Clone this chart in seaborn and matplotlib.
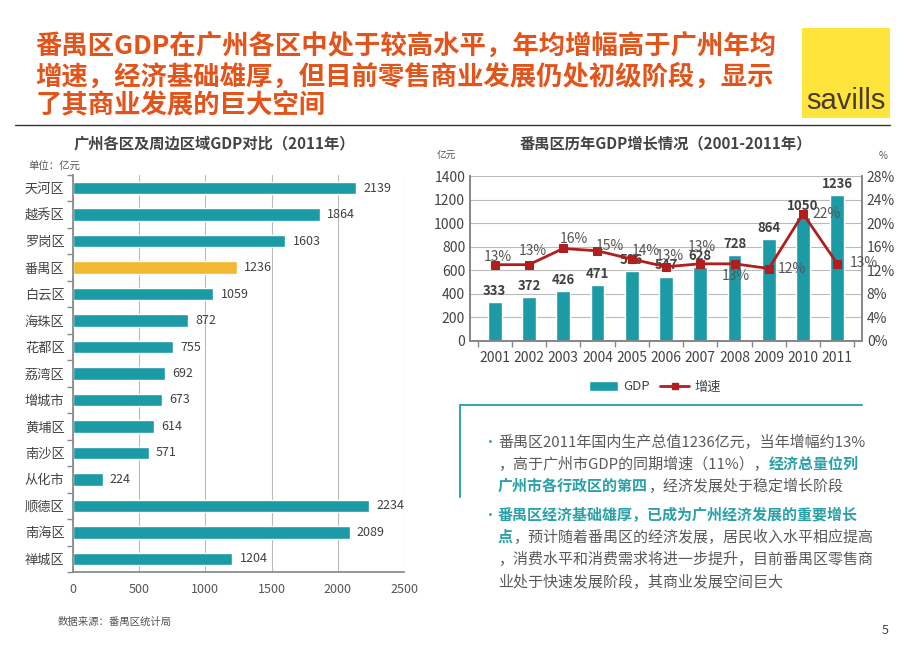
import numpy as np
import pandas as pd
import matplotlib.pyplot as plt
import seaborn as sns
from matplotlib.patches import Rectangle
from matplotlib.lines import Line2D

# data
districts = ['天河区', '越秀区', '罗岗区', '番禺区', '白云区', '海珠区', '花都区', '荔湾区',
             '增城市', '黄埔区', '南沙区', '从化市', '顺德区', '南海区', '禅城区']
district_gdp = [2139, 1864, 1603, 1236, 1059, 872, 755, 692, 673, 614, 571, 224, 2234, 2089, 1204]
years = ['2001', '2002', '2003', '2004', '2005', '2006', '2007', '2008', '2009', '2010', '2011']
py_gdp = [333, 372, 426, 471, 596, 547, 628, 728, 864, 1050, 1236]
py_growth = [12.95, 12.95, 15.7, 15.3, 13.9, 12.6, 13.1, 13.1, 12.3, 21.6, 13.1]
growth_labels = ['13%', '13%', '16%', '15%', '14%', '13%', '13%', '13%', '12%', '22%', '13%']

teal = '#1C9AA6'
gold = '#F2B830'
red = '#B01E1E'
grey_txt = '#404040'

sns.set_theme(style='white')
plt.rcParams['font.family'] = ['Noto Sans CJK SC', 'DejaVu Sans']
plt.rcParams['axes.unicode_minus'] = False

fig = plt.figure(figsize=(9.2, 6.51), dpi=100)

# header
title_lines = ['番禺区GDP在广州各区中处于较高水平，年均增幅高于广州年均',
               '增速，经济基础雄厚，但目前零售商业发展仍处初级阶段，显示',
               '了其商业发展的巨大空间']
for yy, s in zip([47, 77, 105], title_lines):
    fig.text(35/920, 1-yy/651, s, color='#E2541A', fontsize=19, fontweight='bold', va='center')
fig.patches.append(Rectangle((802/920, 1-118/651), 88/920, 90/651, transform=fig.transFigure,
                             facecolor='#FFE53B', edgecolor='none'))
fig.text(846/920, 1-101/651, 'savills', color='#4A3A30', fontsize=21, ha='center', va='center',
         family=['Liberation Sans Narrow', 'Liberation Sans', 'DejaVu Sans'])
fig.add_artist(Line2D([15/920, 890/920], [1-125/651, 1-125/651], color='#333333', lw=1))

# left chart
ax = fig.add_axes([73/920, 1-572/651, 331/920, 397/651])
df1 = pd.DataFrame({'区域': districts, 'GDP': district_gdp})
pal = {d: (gold if d == '番禺区' else teal) for d in districts}
sns.barplot(data=df1, x='GDP', y='区域', hue='区域', palette=pal, legend=False,
            orient='h', width=0.47, ax=ax, saturation=1)
ax.set_xlim(0, 2500)
ax.set_xticks([0, 500, 1000, 1500, 2000, 2500])
ax.grid(axis='x', color='#BBBBBB', lw=0.8)
ax.set_axisbelow(True)
ax.set_xlabel('')
ax.set_ylabel('')
for s in ['top', 'right']:
    ax.spines[s].set_visible(False)
ax.spines['left'].set_color('#888888')
ax.spines['bottom'].set_color('#888888')
ax.tick_params(axis='x', labelsize=9, colors='#555555', length=0, pad=8)
ax.tick_params(axis='y', labelsize=9.5, colors='#444444', length=0, pad=6)
ax.set_yticks(np.arange(-0.5, len(districts)), minor=True)
ax.tick_params(axis='y', which='minor', length=4, color='#888888', left=True)
for i, v in enumerate(district_gdp):
    ax.text(v + 55, i, str(v), va='center', ha='left', fontsize=9, color=grey_txt)
ax.set_ylim(len(districts) - 0.5, -0.5)
fig.text(214/920, 1-143/651, '广州各区及周边区域GDP对比（2011年）', ha='center', va='center',
         fontsize=11, fontweight='bold', color='#444444')
fig.text(28/920, 1-167/651, '单位：亿元', fontsize=7.5, color='#555555', va='center')
fig.text(58/920, 1-622/651, '数据来源：番禺区统计局', fontsize=7.5, color='#555555', va='center')

# right chart
ax1 = fig.add_axes([470/920, 1-341/651, 392/920, 165/651])
df2 = pd.DataFrame({'年份': years, 'GDP': py_gdp})
sns.barplot(data=df2, x='年份', y='GDP', color=teal, width=0.4, ax=ax1, saturation=1)
ax1.set_ylim(0, 1400)
ax1.set_yticks(range(0, 1401, 200))
ax1.grid(axis='y', color='#BBBBBB', lw=0.8)
ax1.set_axisbelow(True)
ax1.set_xlabel('')
ax1.set_ylabel('')
ax1.spines['top'].set_visible(False)
for s in ['left', 'bottom', 'right']:
    ax1.spines[s].set_color('#888888')
ax1.tick_params(axis='both', labelsize=10, colors='#444444', length=0)
ax1.tick_params(axis='x', pad=7)
ax1.set_xticks(np.arange(-0.5, len(years)), minor=True)
ax1.tick_params(axis='x', which='minor', length=4, color='#888888', bottom=True)
for i, v in enumerate(py_gdp):
    ax1.text(i, v + 35, str(v), ha='center', va='bottom', fontsize=9.5, fontweight='bold', color=grey_txt)

ax2 = ax1.twinx()
sns.lineplot(x=np.arange(len(years)), y=py_growth, ax=ax2, color=red, lw=2, marker='s',
             markersize=6, markeredgecolor=red)
ax2.set_ylim(0, 28)
ax2.set_yticks(range(0, 29, 4))
ax2.set_yticklabels([f'{t}%' for t in range(0, 29, 4)])
ax2.tick_params(axis='y', labelsize=10, colors='#444444', length=0)
ax2.spines['top'].set_visible(False)
for s in ['left', 'bottom', 'right']:
    ax2.spines[s].set_color('#888888')
offsets = [(0.08, 1.3), (0.12, 2.3), (0.32, 1.6), (0.36, 0.8), (0.42, 1.4), (0.12, 1.8),
           (0.04, 2.9), (0.03, -2.0), (0.68, 0.0), (0.7, 0.0), (0.78, 0.2)]
for i, (v, lab) in enumerate(zip(py_growth, growth_labels)):
    dx, dy = offsets[i]
    ax2.text(i + dx, v + dy, lab, ha='center', va='center', fontsize=10, color='#555555')

fig.text(666/920, 1-143/651, '番禺区历年GDP增长情况（2001-2011年）', ha='center', va='center',
         fontsize=11, fontweight='bold', color='#444444')
fig.text(437/920, 1-156/651, '亿元', fontsize=7, color='#555555', va='center')
fig.text(879/920, 1-156/651, '%', fontsize=7, color='#555555', va='center')

handles = [Rectangle((0, 0), 1, 1, facecolor=teal),
           Line2D([0], [0], color=red, lw=2, marker='s', markersize=5)]
fig.legend(handles, ['GDP', '增速'], loc='center', bbox_to_anchor=(655/920, 1-387/651), ncol=2,
           frameon=False, fontsize=9.5, handlelength=2.2, columnspacing=0.8, handletextpad=0.4,
           labelcolor='#444444')

# text box
fig.add_artist(Line2D([460/920, 862/920], [1-405/651, 1-405/651], color='#3AA6B0', lw=1.5))
fig.add_artist(Line2D([460/920, 460/920], [1-405/651, 1-497/651], color='#3AA6B0', lw=1.5))

tax = fig.add_axes([0, 0, 1, 1])
tax.set_xlim(0, 920)
tax.set_ylim(651, 0)
tax.set_axis_off()
tax.patch.set_visible(False)

body = '#5A5A5A'
hl = '#2AA0A8'
fs = 10.8


def line(y, parts, bullet=False):
    if bullet:
        tax.text(482, y, '•', color='#3AA6B0', fontsize=fs, va='bottom')
    prev = None
    for s, c, b in parts:
        kw = dict(color=c, fontsize=fs, va='bottom', fontweight='bold' if b else 'normal')
        if prev is None:
            prev = tax.text(498, y, s, **kw)
        else:
            prev = tax.annotate(s, xy=(1, 0), xycoords=prev, **kw)


line(450, [('番禺区2011年国内生产总值1236亿元，当年增幅约13%', body, False)], True)
line(472, [('，高于广州市GDP的同期增速（11%），', body, False), ('经济总量位列', hl, True)])
line(494, [('广州市各行政区的第四', hl, True), ('，经济发展处于稳定增长阶段', body, False)])
line(523, [('番禺区经济基础雄厚，已成为广州经济发展的重要增长', hl, True)], True)
line(545, [('点', hl, True), ('，预计随着番禺区的经济发展，居民收入水平相应提高', body, False)])
line(567, [('，消费水平和消费需求将进一步提升，目前番禺区零售商', body, False)])
line(589, [('业处于快速发展阶段，其商业发展空间巨大', body, False)])

fig.text(882/920, 1-630/651, '5', fontsize=9, color='#444444', va='center')

fig.savefig('out.png', dpi=100)
